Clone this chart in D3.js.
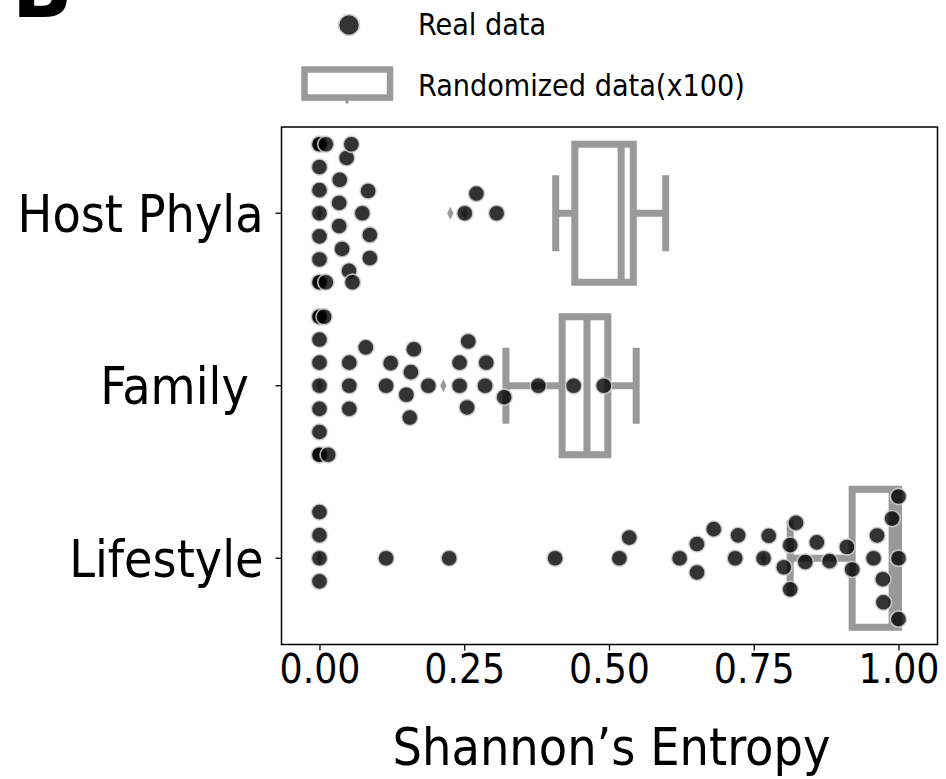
<!DOCTYPE html>
<html>
<head>
<meta charset="utf-8">
<script src="https://cdn.jsdelivr.net/npm/d3@7"></script>
<style>
  html, body { margin: 0; padding: 0; background: #fff; }
  svg { display: block; }
  text { font-family: "DejaVu Sans Condensed", "DejaVu Sans", sans-serif; font-stretch: condensed; white-space: pre; }
</style>
</head>
<body>
<svg id="chart" width="946" height="779"></svg>
<script>
// ---------------- data ----------------
const categories = ["Host Phyla", "Family\u00a0", "Lifestyle"];
const xTicks = [0.0, 0.25, 0.5, 0.75, 1.0];

const hostPhylaReal = [0, 0, 0, 0, 0, 0, 0, 0, 0, 0.011, 0.011,
  0.034, 0.034, 0.035, 0.039, 0.047, 0.051, 0.055, 0.057,
  0.074, 0.084, 0.087, 0.087, 0.251, 0.271, 0.306];
const familyReal = [0, 0, 0, 0, 0, 0, 0, 0, 0, 0.008, 0.015,
  0.0515, 0.0515, 0.0515, 0.080, 0.115, 0.123, 0.150, 0.156, 0.158, 0.163,
  0.188, 0.242, 0.242, 0.255, 0.257, 0.286, 0.288, 0.319, 0.378, 0.439, 0.491];
const lifestyleReal = [0, 0, 0, 0, 0.115, 0.224, 0.407, 0.518, 0.535, 0.622,
  0.652, 0.652, 0.681, 0.718, 0.723, 0.767, 0.776, 0.802, 0.813, 0.813,
  0.823, 0.839, 0.859, 0.881, 0.911, 0.920, 0.957, 0.963, 0.973, 0.974,
  0.989, 1.0, 1.0, 1.0];

// randomized data (x100) box statistics, one per category
const boxWhiskerLow = [0.408, 0.322, 0.813];
const boxQ1 = [0.441, 0.419, 0.920];
const boxMedian = [0.521, 0.462, 0.989];
const boxQ3 = [0.542, 0.498, 1.0];
const boxWhiskerHigh = [0.598, 0.547, 1.0];
const hostPhylaFliers = [0, 0.226, 0.251];
const familyFliers = [0, 0.214];
const lifestyleFliers = [0, 0.767];

const legendLabels = ["Real data", "Randomized data(x100)"];
const xLabel = "Shannon\u2019s Entropy";
const panelLetter = "B";

// ---------------- layout ----------------
const svg = d3.select("#chart");
const plot = { left: 281.5, right: 937.5, top: 127, bottom: 644.5 };
const x = d3.scaleLinear().domain([-0.0656, 1.0674]).range([plot.left, plot.right]);
const y = d3.scaleBand().domain(categories).range([plot.top, plot.bottom]).padding(0);
const boxColor = "#999999";
const boxLW = 7;

const realSets = [hostPhylaReal, familyReal, lifestyleReal];
const flierSets = [hostPhylaFliers, familyFliers, lifestyleFliers];

function fitFont(sel, text, targetW, baseSize) {
  sel.attr("font-size", baseSize).text(text);
  const w = sel.node().getComputedTextLength();
  const s = baseSize * targetW / w;
  sel.attr("font-size", s);
  return s;
}

// ---------------- boxes ----------------
const gBox = svg.append("g");
categories.forEach((c, i) => {
  const cy = y(c) + y.bandwidth() / 2;
  const hw = y.bandwidth() * 0.4;
  const capHw = hw / 2;
  const g = gBox.append("g");
  g.append("line").attr("x1", x(boxWhiskerLow[i])).attr("x2", x(boxQ1[i]))
    .attr("y1", cy).attr("y2", cy).attr("stroke", boxColor).attr("stroke-width", boxLW);
  g.append("line").attr("x1", x(boxQ3[i])).attr("x2", x(boxWhiskerHigh[i]))
    .attr("y1", cy).attr("y2", cy).attr("stroke", boxColor).attr("stroke-width", boxLW);
  g.append("rect").attr("x", x(boxQ1[i])).attr("y", cy - hw)
    .attr("width", x(boxQ3[i]) - x(boxQ1[i])).attr("height", 2 * hw)
    .attr("fill", "#fff").attr("stroke", boxColor).attr("stroke-width", boxLW);
  [boxWhiskerLow[i], boxWhiskerHigh[i]].forEach(v => {
    g.append("line").attr("x1", x(v)).attr("x2", x(v))
      .attr("y1", cy - capHw).attr("y2", cy + capHw)
      .attr("stroke", boxColor).attr("stroke-width", boxLW).attr("stroke-linecap", "square");
  });
  g.append("line").attr("x1", x(boxMedian[i])).attr("x2", x(boxMedian[i]))
    .attr("y1", cy - hw).attr("y2", cy + hw)
    .attr("stroke", boxColor).attr("stroke-width", boxLW);
  flierSets[i].forEach(v => {
    const px = x(v);
    g.append("path").attr("d", `M${px},${cy - 6.5}L${px + 3.2},${cy}L${px},${cy + 6.5}L${px - 3.2},${cy}Z`)
      .attr("fill", boxColor);
  });
});

// ---------------- swarm (screen coords: negative offset = up) ----------------
function swarm(values, centerY, r, halfWidth) {
  const idx = d3.range(values.length).sort((a, b) => (values[a] - values[b]) || (a - b));
  const placed = [];
  for (const i of idx) {
    const px = x(values[i]);
    if (!placed.length) { placed.push({ i, px, c: 0 }); continue; }
    const nbs = [];
    for (let k = placed.length - 1; k >= 0; k--) {
      if (px - placed[k].px < 2 * r) nbs.push(placed[k]); else break;
    }
    const cands = [0];
    let leftFirst = true;
    for (const nb of nbs) {
      const dy = px - nb.px;
      const dc = Math.sqrt(Math.max(4 * r * r - dy * dy, 0)) * 1.05;
      if (leftFirst) cands.push(nb.c - dc, nb.c + dc); else cands.push(nb.c + dc, nb.c - dc);
      leftFirst = !leftFirst;
    }
    const order = cands.map((c, k) => [Math.round(Math.abs(c) * 1e4) / 1e4, c, k])
      .sort((a, b) => (a[0] - b[0]) || (a[1] - b[1]) || (a[2] - b[2])).map(d => d[1]);
    let chosen = order[order.length - 1];
    for (const c of order) {
      if (nbs.every(nb => (nb.px - px) ** 2 + (nb.c - c) ** 2 >= 4 * r * r - 1e-6)) { chosen = c; break; }
    }
    placed.push({ i, px, c: chosen });
  }
  return placed.map(p => ({
    v: values[p.i], px: p.px,
    py: centerY + Math.max(-halfWidth, Math.min(halfWidth, p.c))
  }));
}

const gPts = svg.append("g");
categories.forEach((c, i) => {
  const cy = y(c) + y.bandwidth() / 2;
  const pts = swarm(realSets[i], cy, 11, y.bandwidth() * 0.4);
  gPts.selectAll(null).data(pts).enter().append("circle")
    .attr("cx", d => d.px).attr("cy", d => d.py).attr("r", 8.1)
    .attr("fill", "#000").attr("fill-opacity", 0.8)
    .attr("stroke", "#d3d3d3").attr("stroke-opacity", 0.85).attr("stroke-width", 1.6);
});

// ---------------- axes ----------------
const yAxis = svg.append("g").attr("transform", `translate(${plot.left},0)`)
  .call(d3.axisLeft(y).tickSize(6).tickPadding(12));
yAxis.select(".domain").remove();
yAxis.selectAll(".tick line").attr("stroke", "#000").attr("stroke-width", 1.3);
const yTexts = yAxis.selectAll(".tick text").attr("fill", "#000");
{
  const probe = yAxis.select(".tick text");
  const s = fitFont(probe, categories[0], 246, 56);
  yTexts.attr("font-size", s).attr("dy", "0.36em");
}

const xAxis = svg.append("g").attr("transform", `translate(0,${plot.bottom})`)
  .call(d3.axisBottom(x).tickValues(xTicks).tickFormat(d3.format(".2f")).tickSize(6).tickPadding(4));
xAxis.select(".domain").remove();
xAxis.selectAll(".tick line").attr("stroke", "#000").attr("stroke-width", 1.3);
const xTexts = xAxis.selectAll(".tick text").attr("fill", "#000");
{
  const probe = xAxis.select(".tick text");
  const s = fitFont(probe, "0.00", 81, 40);
  xTexts.attr("font-size", s).attr("dy", "0.71em");
}

svg.append("rect").attr("x", plot.left).attr("y", plot.top)
  .attr("width", plot.right - plot.left).attr("height", plot.bottom - plot.top)
  .attr("fill", "none").attr("stroke", "#000").attr("stroke-width", 1.5);

const xl = svg.append("text").attr("x", (plot.left + plot.right) / 2 + 2).attr("y", 765)
  .attr("text-anchor", "middle").attr("fill", "#000");
fitFont(xl, xLabel, 438, 52);

// ---------------- legend ----------------
svg.append("circle").attr("cx", 349).attr("cy", 25).attr("r", 10.5)
  .attr("fill", "#000").attr("fill-opacity", 0.8)
  .attr("stroke", "#d3d3d3").attr("stroke-width", 1.6);
svg.append("rect").attr("x", 304.5).attr("y", 69.5).attr("width", 85.5).attr("height", 28)
  .attr("fill", "#fff").attr("stroke", boxColor).attr("stroke-width", 6.5);
svg.append("line").attr("x1", 347).attr("x2", 347).attr("y1", 100).attr("y2", 103.5)
  .attr("stroke", boxColor).attr("stroke-width", 3);
const lt1 = svg.append("text").attr("x", 418).attr("y", 35).attr("fill", "#000");
const lt2 = svg.append("text").attr("x", 418).attr("y", 96).attr("fill", "#000");
const ls = fitFont(lt2, legendLabels[1], 327, 26);
lt1.attr("font-size", ls).text(legendLabels[0]);

svg.append("text").attr("x", 12).attr("y", 17).attr("font-size", 88)
  .attr("font-weight", "bold").attr("fill", "#000").style("font-stretch", "normal")
  .text(panelLetter);
</script>
</body>
</html>
